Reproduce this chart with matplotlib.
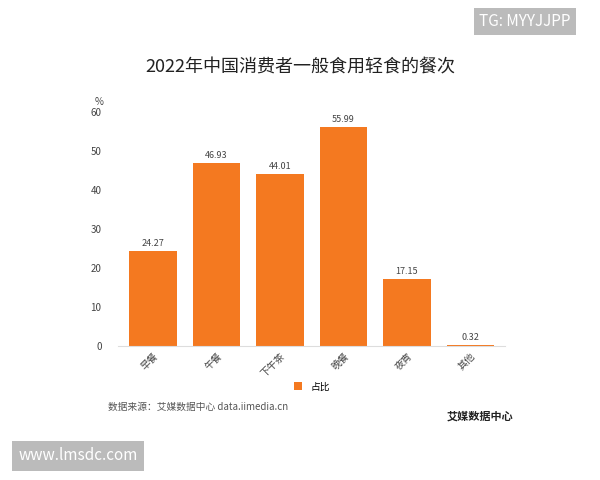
import matplotlib
matplotlib.use("Agg")
import matplotlib.pyplot as plt

plt.rcParams['font.family'] = ['Noto Sans CJK SC', 'DejaVu Sans']

categories = ["早餐", "午餐", "下午茶", "晚餐", "夜宵", "其他"]
values = [24.27, 46.93, 44.01, 55.99, 17.15, 0.32]
yticks = [0, 10, 20, 30, 40, 50, 60]

fig = plt.figure(figsize=(6, 4.8), dpi=100)
ax = fig.add_axes([0.197, 0.279, 0.645, 0.488])
color = "#F47920"
bars = ax.bar(range(len(categories)), values, width=0.75, color=color, label="占比")
for i, v in enumerate(values):
    ax.text(i, v + 0.8, f"{v:.2f}", ha="center", va="bottom", fontsize=6.5, color="#444444")

ax.set_ylim(0, 60)
ax.set_xlim(-0.55, 5.55)
ax.set_yticks(yticks)
ax.set_xticks(range(len(categories)))
ax.set_xticklabels(categories, rotation=45, ha="right", rotation_mode="anchor", fontsize=7, color="#444444")
ax.tick_params(axis="y", labelsize=7, colors="#444444", length=0, pad=12)
ax.tick_params(axis="x", length=0)
for s in ["top", "right", "left"]:
    ax.spines[s].set_visible(False)
ax.spines["bottom"].set_color("#dddddd")
ax.text(-0.06, 1.03, "%", transform=ax.transAxes, fontsize=7, color="#444444")

fig.text(0.5, 0.85, "2022年中国消费者一般食用轻食的餐次", ha="center", fontsize=13, color="#222222")
fig.legend(handles=[bars], loc="center", bbox_to_anchor=(0.52, 0.195), frameon=False,
           fontsize=7, handlelength=0.8, handleheight=0.8)
fig.text(0.18, 0.145, "数据来源：艾媒数据中心 data.iimedia.cn", fontsize=7, color="#555555")
fig.text(0.745, 0.125, "艾媒数据中心", fontsize=8, color="#222222", fontweight="bold")

fig.text(0.875, 0.955, "TG: MYYJJPP", ha="center", va="center", fontsize=11, color="white",
         bbox=dict(boxstyle="square,pad=0.35", fc="#bbbbbb", ec="none"))
fig.text(0.13, 0.05, "www.lmsdc.com", ha="center", va="center", fontsize=11, color="white",
         bbox=dict(boxstyle="square,pad=0.4", fc="#bbbbbb", ec="none"))

fig.savefig("out.png")
